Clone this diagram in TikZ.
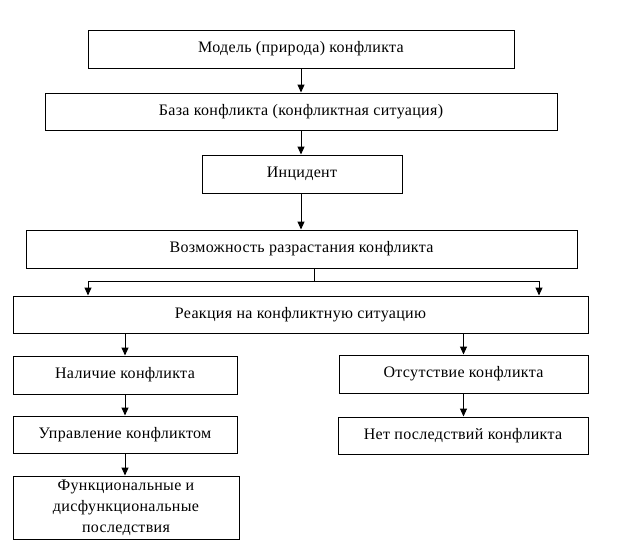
\documentclass[tikz,border=0pt]{standalone}
\usepackage{fontspec}
\setmainfont[LetterSpace=2]{Liberation Serif}
\usetikzlibrary{arrows.meta}
\begin{document}
\begin{tikzpicture}[x=1pt,y=-1pt,
  box/.style={draw=black,line width=1pt,rectangle,inner sep=0pt,align=center,
    font=\fontsize{16}{21}\selectfont},
  arr/.style={draw=black,line width=1pt,-{Triangle[length=8pt,width=7pt]}},
  ln/.style={draw=black,line width=1pt}]
\useasboundingbox (0,0) rectangle (618,544);
\node[box,minimum width=426pt,minimum height=38pt] (b1) at (301,49) {Модель (природа) конфликта};
\node[box,minimum width=512pt,minimum height=37pt] (b2) at (301,111.5) {База конфликта (конфликтная ситуация)};
\node[box,minimum width=200pt,minimum height=38pt] (b3) at (302,174) {Инцидент};
\node[box,minimum width=551pt,minimum height=38pt] (b4) at (301.5,249) {Возможность разрастания конфликта};
\node[box,minimum width=575pt,minimum height=37pt] (b5) at (300.5,314.5) {Реакция на конфликтную ситуацию};
\node[box,minimum width=224pt,minimum height=38pt] (b6) at (125,375) {Наличие конфликта};
\node[box,minimum width=249pt,minimum height=38pt] (b7) at (463.5,374) {Отсутствие конфликта};
\node[box,minimum width=224pt,minimum height=37pt] (b8) at (125,434.5) {Управление конфликтом};
\node[box,minimum width=250pt,minimum height=37pt] (b9) at (463,435.5) {Нет последствий конфликта};
\node[box,minimum width=226pt,minimum height=63pt] (b10) at (126,507.5) {Функциональные и\\дисфункциональные\\последствия};
\coordinate (j) at (314,281);
\coordinate (jl) at (88,281);
\coordinate (jr) at (539,281);
\draw[arr] (b1.south) -- (b2.north);
\draw[arr] (b2.south) -- (b3.north -| b2.south);
\draw[arr] (b3.south -| b2.south) -- (b4.north -| b2.south);
\draw[ln] (b4.south -| j) -- (j);
\draw[arr] (j) -- (jl) -- (b5.north -| jl);
\draw[arr] (j) -- (jr) -- (b5.north -| jr);
\draw[arr] (b6.north |- b5.south) -- (b6.north);
\draw[arr] (b7.north |- b5.south) -- (b7.north);
\draw[arr] (b6.south) -- (b8.north);
\draw[arr] (b7.south) -- (b7.south |- b9.north);
\draw[arr] (b8.south) -- (b8.south |- b10.north);
\end{tikzpicture}
\end{document}
